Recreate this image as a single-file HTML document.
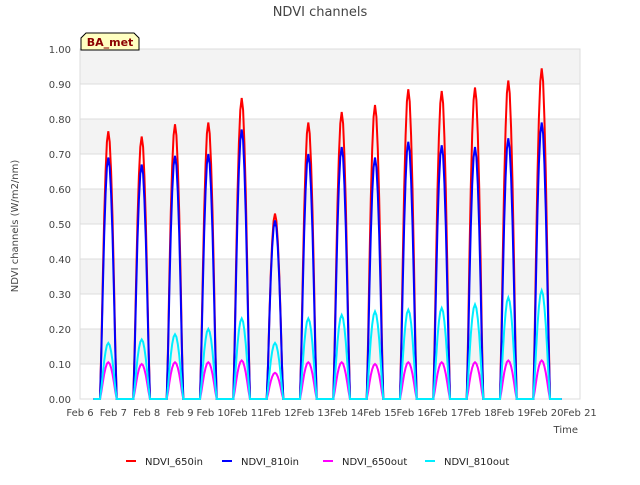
<!DOCTYPE html>
<html><head><meta charset="utf-8"><style>
body{margin:0;background:#fff;font-family:"Liberation Sans",sans-serif}
svg text{font-family:"DejaVu Sans","Liberation Sans",sans-serif}
</style></head><body>
<svg width="640" height="480" id="c">
<rect width="640" height="480" fill="#fff"/>
<text x="320" y="16" text-anchor="middle" font-size="13" fill="#444">NDVI channels</text>
<g id="bands"></g>
<g id="grid"></g>
<g id="series"></g>
<g id="axes"></g>
<text x="18" y="226" transform="rotate(-90 18 226)" text-anchor="middle" font-size="10" fill="#444">NDVI channels (W/m2/nm)</text>
<text x="578" y="433" text-anchor="end" font-size="10" fill="#444">Time</text>
<g>
<path d="M81,50 L81,38 L86,33 L134,33 L139,38 L139,50 Z" fill="#ffffc0" stroke="#000" stroke-width="1"/>
<text x="110" y="46" text-anchor="middle" font-size="11" font-weight="bold" fill="#8b0000">BA_met</text>
</g>
<g id="legend"></g>
</svg>
<script>
const days=["Feb 7","Feb 8","Feb 9","Feb 10","Feb 11","Feb 12","Feb 13","Feb 14","Feb 15","Feb 16","Feb 17","Feb 18","Feb 19","Feb 20"];
const xTicks=["Feb 6","Feb 7","Feb 8","Feb 9","Feb 10","Feb 11","Feb 12","Feb 13","Feb 14","Feb 15","Feb 16","Feb 17","Feb 18","Feb 19","Feb 20","Feb 21"];
const yTicks=[0,0.1,0.2,0.3,0.4,0.5,0.6,0.7,0.8,0.9,1.0];
const ndvi650in=[0.765,0.75,0.785,0.79,0.86,0.53,0.79,0.82,0.84,0.885,0.88,0.89,0.91,0.945];
const ndvi810in=[0.69,0.67,0.695,0.70,0.77,0.51,0.70,0.72,0.69,0.735,0.725,0.72,0.745,0.79];
const ndvi650out=[0.105,0.10,0.105,0.105,0.11,0.075,0.105,0.105,0.10,0.105,0.105,0.105,0.11,0.11];
const ndvi810out=[0.16,0.17,0.185,0.20,0.23,0.16,0.23,0.24,0.25,0.255,0.26,0.27,0.29,0.31];
const diurnal=[0,0.2,0.45,0.68,0.85,0.96,1,0.96,0.85,0.68,0.45,0.2,0];
const NS="http://www.w3.org/2000/svg";
const X0=80,X1=580,Y0=399,Y1=49;
const xs=d=>X0+(d)*(X1-X0)/15;
const ys=v=>Y0-v*(Y0-Y1);
function mk(t,a,p){const e=document.createElementNS(NS,t);for(const k in a)e.setAttribute(k,a[k]);p.appendChild(e);return e;}
const bands=document.getElementById('bands'),grid=document.getElementById('grid'),axes=document.getElementById('axes'),ser=document.getElementById('series'),leg=document.getElementById('legend');
for(let i=0;i<10;i++){if(i%2==1){const r=mk('rect',{x:X0,y:ys(yTicks[i+1]),width:X1-X0,height:ys(yTicks[i])-ys(yTicks[i+1]),fill:'#f3f3f3'},bands);}}
yTicks.forEach(v=>{const l=mk('line',{x1:X0,x2:X1,y1:ys(v),y2:ys(v),stroke:'#ddd'},grid);
const t=mk('text',{x:X0-9,y:ys(v)+4,'text-anchor':'end','font-size':10,fill:'#444'},axes);t.textContent=v.toFixed(2);});
mk('rect',{x:X0,y:Y1,width:X1-X0,height:Y0-Y1,fill:'none',stroke:'#ddd'},grid);
xTicks.forEach((s,i)=>{const t=mk('text',{x:xs(i),y:Y0+17,'text-anchor':'middle','font-size':10,fill:'#444'},axes);t.textContent=s;});
function path(vals){let d=`M${xs(0.4)},${ys(0)}`;vals.forEach((p,i)=>{diurnal.forEach((f,j)=>{const t=i+0.6+j*0.5/(diurnal.length-1);d+=` L${xs(t).toFixed(1)},${ys(p*f).toFixed(1)}`;});});d+=` L${xs(14.45)},${ys(0)}`;return d;}
const series=[[ndvi650in,'#ff0000','NDVI_650in'],[ndvi810in,'#0000ff','NDVI_810in'],[ndvi650out,'#ff00ff','NDVI_650out'],[ndvi810out,'#00eeff','NDVI_810out']];
series.forEach(([v,c,n])=>{const p=mk('path',{d:path(v),fill:'none',stroke:c,'stroke-width':2},ser);});
const lx=[126,222,323,425];
series.forEach(([v,c,n],i)=>{const g=mk('g',{},leg);
mk('line',{x1:lx[i],x2:lx[i]+10,y1:461,y2:461,stroke:c,'stroke-width':2},g);
const t=mk('text',{x:lx[i]+19,y:465,'font-size':10,fill:'#222'},g);t.textContent=n;});
</script>
</body></html>
